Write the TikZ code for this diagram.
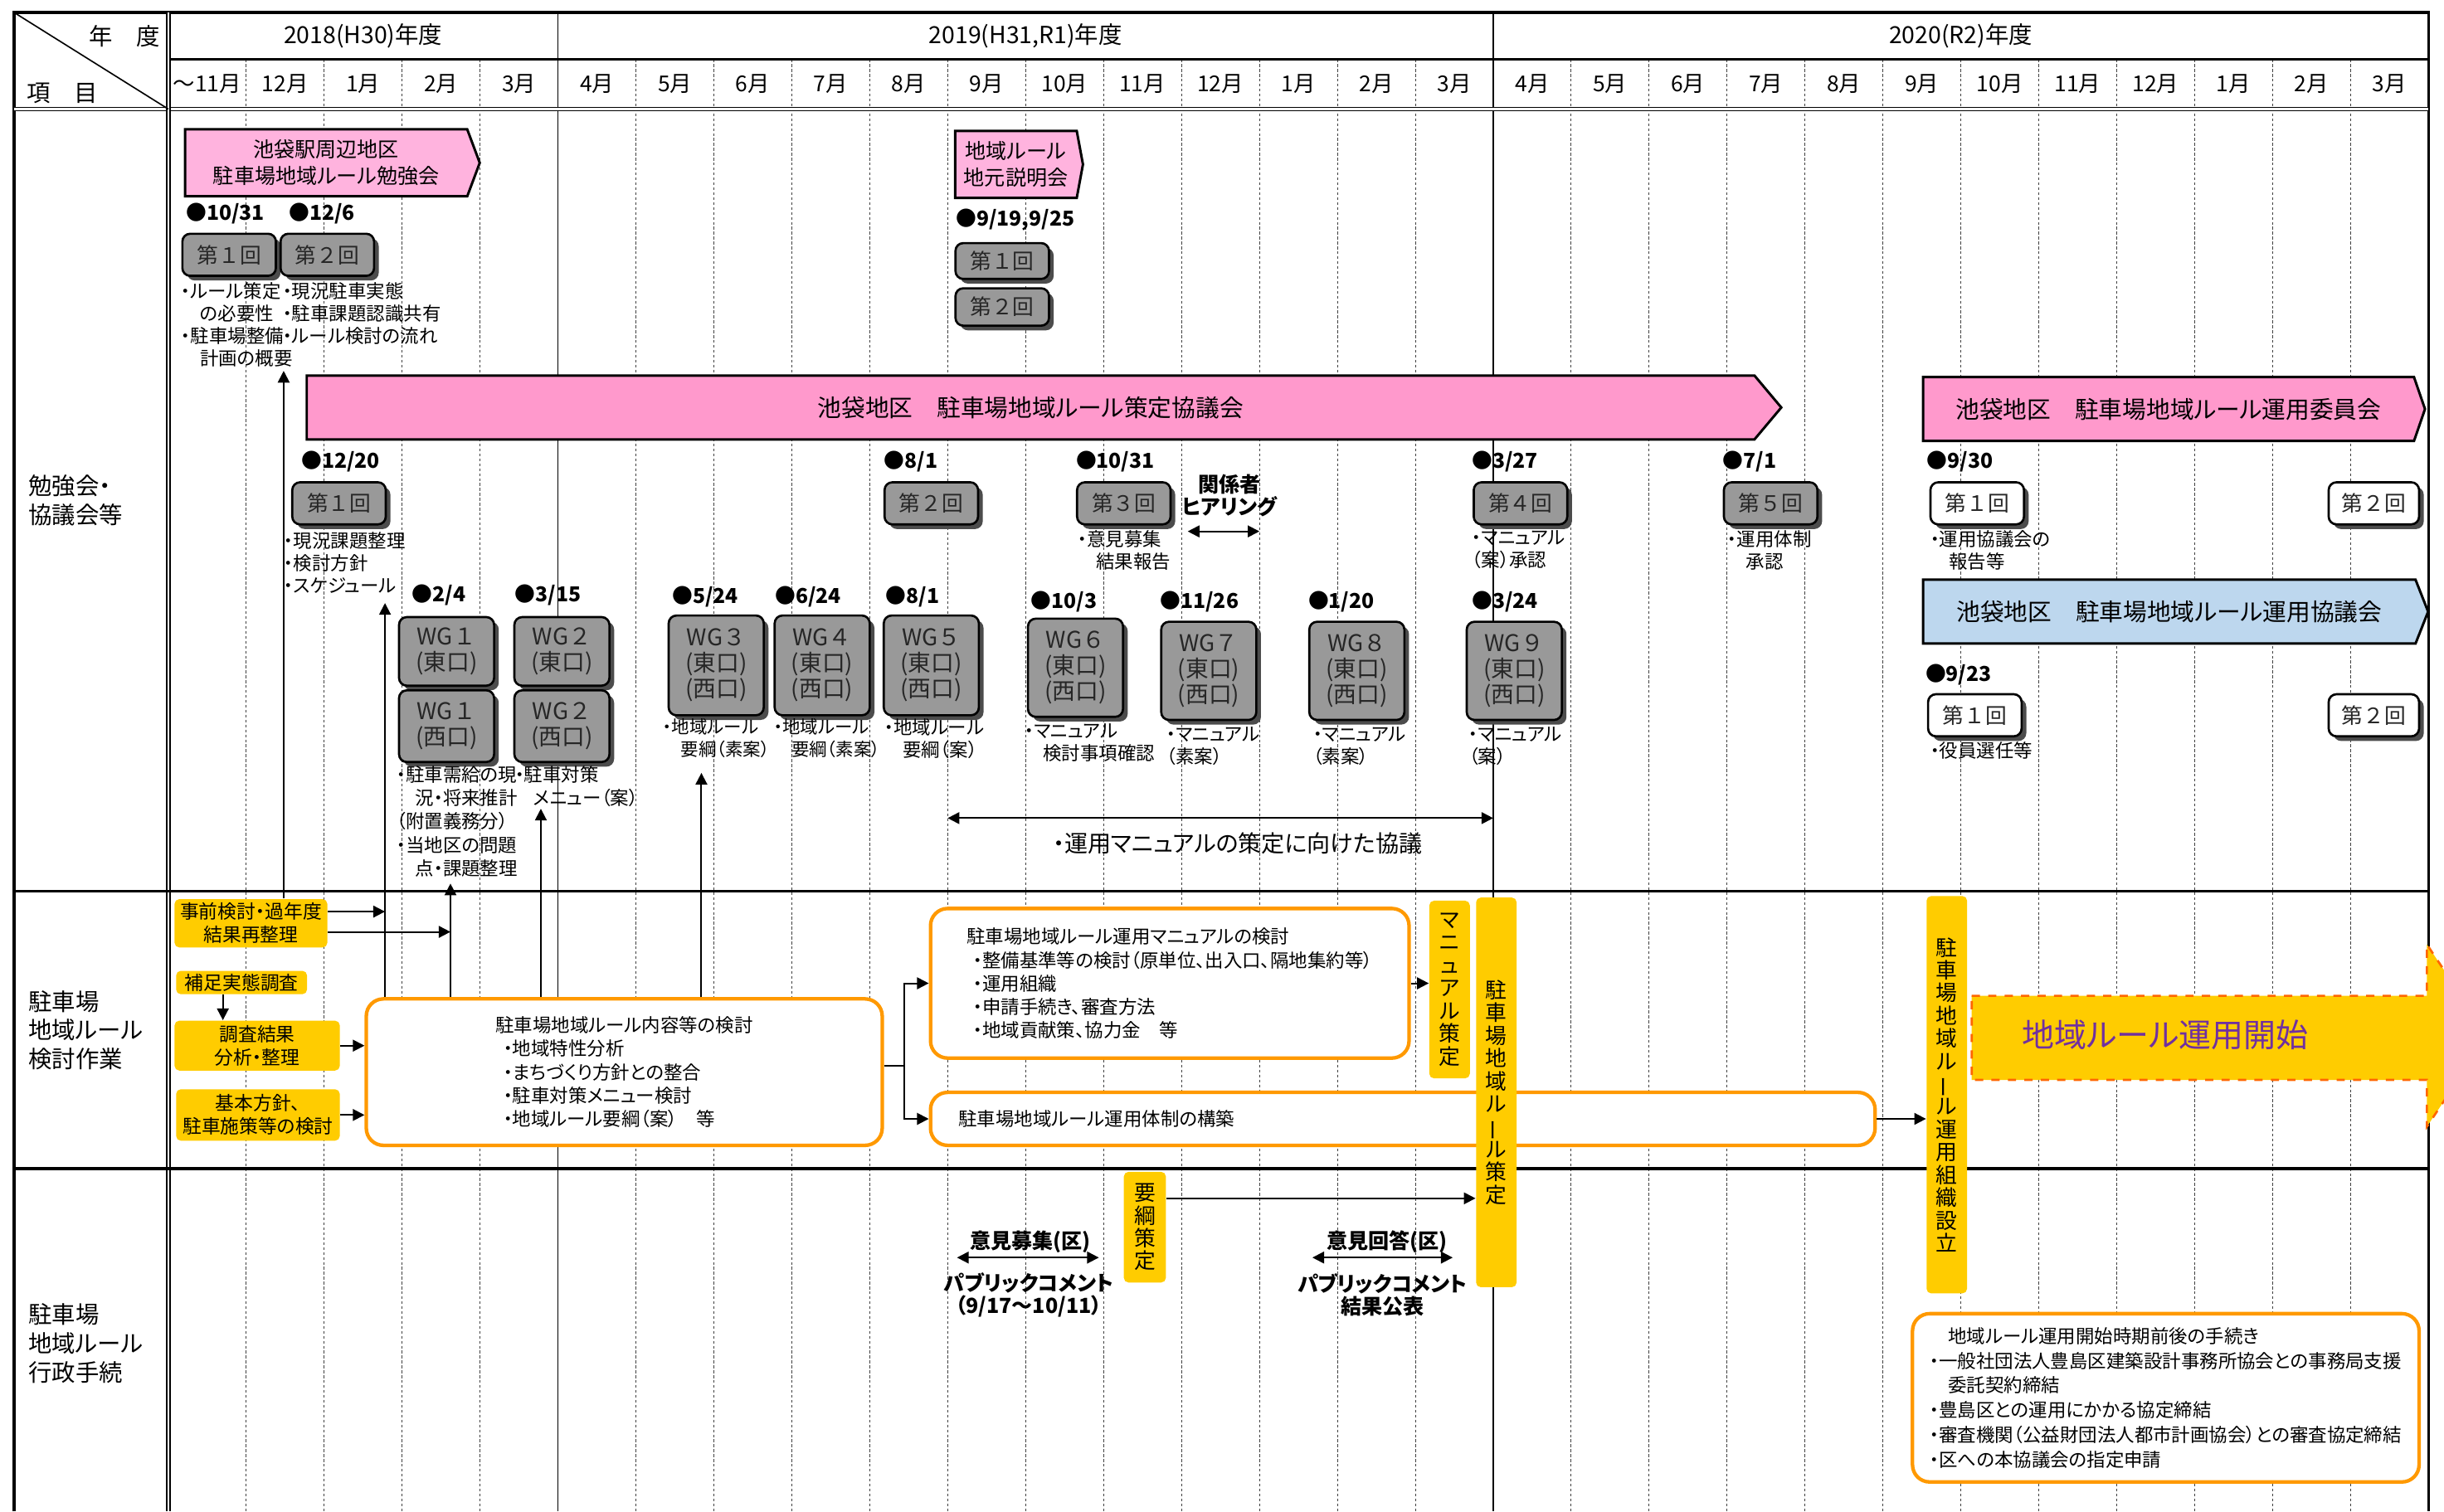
\documentclass[tikz,border=0pt]{standalone}
\usepackage{fontspec}
\setmainfont{Noto Sans CJK JP}[RawFeature=+palt]
\newfontfamily\boxfont{Noto Sans CJK JP}
\usetikzlibrary{positioning, arrows.meta, shapes.symbols, shadows}
\definecolor{rlpink}{HTML}{FF99CC}
\definecolor{rlpinklight}{HTML}{FFB3DE}
\definecolor{rlblue}{HTML}{BDD7EE}
\definecolor{rlgray}{HTML}{999999}
\definecolor{rlyellow}{HTML}{FFCC00}
\definecolor{rlorange}{HTML}{FF9900}
\definecolor{rlpurple}{HTML}{7030A0}
\definecolor{rldash}{HTML}{FF6600}
\newcommand{\tatebo}{\rotatebox[origin=c]{90}{ー}}

\begin{document}
\begin{tikzpicture}[x=0.2mm, y=-0.2mm,
    frame/.style={line width=1pt},
    monthline/.style={line width=0.3pt, black!75, dash pattern=on 1pt off 0.8pt},
    hdr/.style={inner sep=0pt, font=\fontsize{8.6}{9}\selectfont},
    monthlbl/.style={inner sep=0pt, font=\fontsize{8}{9}\selectfont},
    seclbl/.style={anchor=west, align=left, inner sep=0pt, font=\fontsize{8.6}{10.5}\selectfont},
    pinkbar/.style={signal, signal to=east, draw, line width=0.9pt, inner sep=0pt, align=center, anchor=west},
    meetbox/.style={draw, line width=0.8pt, rounded corners=1mm, fill=rlgray, minimum width=12mm,
      minimum height=5.4mm, inner sep=0pt, text=black!85, font=\boxfont\fontsize{7.8}{9}\selectfont,
      drop shadow={shadow xshift=0.6mm, shadow yshift=-0.6mm, fill=black!70, opacity=1}},
    wgbox/.style={meetbox, minimum width=12.2mm, align=center, font=\boxfont\fontsize{8.4}{9.4}\selectfont},
    datelbl/.style={anchor=west, inner sep=0pt, font=\bfseries\fontsize{7.5}{8}\selectfont},
    note/.style={anchor=north west, align=left, inner sep=0pt, font=\fontsize{6.8}{8.2}\selectfont},
    yelbox/.style={fill=rlyellow, rounded corners=0.6mm, inner sep=0pt, align=center, font=\fontsize{6.9}{8.5}\selectfont},
    vbar/.style={yelbox, minimum width=5.2mm, font=\fontsize{7.8}{8.3}\selectfont},
    orbox/.style={draw=rlorange, line width=1.3pt, rounded corners=2.2mm, fill=white, inner sep=0pt,
      align=left, font=\fontsize{6.8}{8.5}\selectfont},
    boldlbl/.style={inner sep=0pt, align=center, font=\bfseries\fontsize{7.6}{8.4}\selectfont},
    arr/.style={-{Triangle[length=1.5mm,width=1.5mm]}, line width=0.6pt},
    darr/.style={{Triangle[length=1.5mm,width=1.5mm]}-{Triangle[length=1.5mm,width=1.5mm]}, line width=0.6pt}]
  \useasboundingbox (0,0) rectangle (1568,970);

  % month grid
  \foreach \i in {1,...,28}
    \draw[monthline] ({108+50*\i},38) -- ({108+50*\i},970);
  \draw[line width=0.5pt] (358,8) -- (358,970);
  \draw[line width=0.5pt] (958,8) -- (958,970);

  % frame
  \draw[frame] (9,970) -- (9,8) -- (1558,8) -- (1558,970);
  \draw[frame] (108,38) -- (1558,38);
  \draw[double, double distance=0.7pt, line width=0.5pt] (9,70) -- (1558,70);
  \draw[double, double distance=0.7pt, line width=0.5pt] (108,8) -- (108,970);
  \draw[frame] (9,572) -- (1558,572);
  \draw[frame] (9,750) -- (1558,750);
  \draw[line width=0.5pt] (9,8) -- (108,70);

  % header
  \node[hdr] (nendo) at (80,23) {年　度};
  \node[hdr] (komoku) at (40,60) {項　目};
  \node[hdr] (fy18) at (233,23) {2018(H30)年度};
  \node[hdr] (fy19) at (658,23) {2019(H31,R1)年度};
  \node[hdr] (fy20) at (1258,23) {2020(R2)年度};
  \foreach \m [count=\i] in {～11月,12月,1月,2月,3月,4月,5月,6月,7月,8月,9月,10月,11月,12月,1月,2月,3月,
      4月,5月,6月,7月,8月,9月,10月,11月,12月,1月,2月,3月}
    \node[monthlbl] (m\i) at ({83+50*\i},54) {\m};

  \node[seclbl] (sec1) at (18,321) {勉強会・\\協議会等};
  \node[seclbl] (sec2) at (18,661) {駐車場\\地域ルール\\検討作業};
  \node[seclbl] (sec3) at (18,862) {駐車場\\地域ルール\\行政手続};

  % study meetings and local briefings
  \node[pinkbar, fill=rlpinklight, signal pointer angle=139, minimum width=37.8mm, minimum height=8.6mm,
    font=\fontsize{7.6}{9.7}\selectfont] (benkyo) at (118,104.5) {池袋駅周辺地区\\駐車場地域ルール勉強会};
  \node[datelbl] (dB1) at (119,137) {●10/31};
  \node[datelbl] (dB2) at (185,137) {●12/6};
  \node[meetbox] (bk1) at (147,163.5) {第１回};
  \node[meetbox] (bk2) at (210,163.5) {第２回};
  \node[note] (nB1) at (116,181) {・ルール策定\\　の必要性\\・駐車場整備\\　計画の概要};
  \node[note] (nB2) at (181,181) {・現況駐車実態\\・駐車課題認識共有\\・ルール検討の流れ};

  \node[pinkbar, fill=rlpinklight, signal pointer angle=159, minimum width=16.4mm, minimum height=8.6mm,
    font=\fontsize{7.6}{9.7}\selectfont] (setsumei) at (612,105.5) {地域ルール\\地元説明会};
  \node[datelbl] (dS) at (613,141) {●9/19,9/25};
  \node[meetbox, minimum height=4.6mm] (sm1) at (643,167.5) {第１回};
  \node[meetbox, minimum height=4.8mm] (sm2) at (643,197) {第２回};

  % council
  \node[pinkbar, fill=rlpink, signal pointer angle=100, minimum width=189.2mm, minimum height=8.2mm,
    font=\fontsize{8.7}{9}\selectfont] (sakutei) at (196,261.5) {池袋地区　駐車場地域ルール策定協議会};
  \node[datelbl] (dC1) at (193,296) {●12/20};
  \node[meetbox] (ck1) at (217.5,323) {第１回};
  \node[note] (nC1) at (182,341) {・現況課題整理\\・検討方針\\・スケジュール};
  \node[datelbl] (dC2) at (567,296) {●8/1};
  \node[meetbox] (ck2) at (597.5,323) {第２回};
  \node[datelbl] (dC3) at (690,296) {●10/31};
  \node[meetbox] (ck3) at (721,323) {第３回};
  \node[note] (nC3) at (691,340) {・意見募集\\　結果報告};
  \node[boldlbl] (hear) at (789,318) {関係者\\ヒアリング};
  \coordinate (hearL) at (762,341);
  \coordinate (hearR) at (808,341);
  \draw[darr] (hearL) -- (hearR);
  \node[datelbl] (dC4) at (944,296) {●3/27};
  \node[meetbox] (ck4) at (975.5,323) {第４回};
  \node[note] (nC4) at (944,340) {・マニュアル\\（案）承認};
  \node[datelbl] (dC5) at (1105,296) {●7/1};
  \node[meetbox] (ck5) at (1136,323) {第５回};
  \node[note] (nC5) at (1108,340) {・運用体制\\　承認};

  % operation committee and operation council
  \node[pinkbar, fill=rlpink, signal pointer angle=142, minimum width=64.4mm, minimum height=8.2mm,
    font=\fontsize{8.7}{9}\selectfont] (iinkai) at (1233,262.5) {池袋地区　駐車場地域ルール運用委員会};
  \node[datelbl] (dI1) at (1236,296) {●9/30};
  \node[meetbox, fill=white] (ik1) at (1268.5,323) {第１回};
  \node[meetbox, fill=white, minimum width=11.6mm] (ik2) at (1523,323) {第２回};
  \node[note] (nI1) at (1238,340) {・運用協議会の\\　報告等};
  \node[pinkbar, fill=rlblue, signal pointer angle=137, minimum width=64.8mm, minimum height=8.2mm,
    font=\fontsize{8.7}{9}\selectfont] (unyo) at (1233,392.5) {池袋地区　駐車場地域ルール運用協議会};
  \node[datelbl] (dU1) at (1235,433) {●9/23};
  \node[meetbox, fill=white] (uk1) at (1267,459) {第１回};
  \node[meetbox, fill=white, minimum width=11.6mm] (uk2) at (1523,459) {第２回};
  \node[note] (nU1) at (1238,476) {・役員選任等};

  % working groups
  \node[datelbl] (dW1) at (264,382) {●2/4};
  \node[datelbl] (dW2) at (330,382) {●3/15};
  \node[datelbl] (dW3) at (431,383) {●5/24};
  \node[datelbl] (dW4) at (497,383) {●6/24};
  \node[datelbl] (dW5) at (568,383) {●8/1};
  \node[datelbl] (dW6) at (661,386) {●10/3};
  \node[datelbl] (dW7) at (744,386) {●11/26};
  \node[datelbl] (dW8) at (839,386) {●1/20};
  \node[datelbl] (dW9) at (944,386) {●3/24};
  \node[wgbox, minimum height=8.8mm] (wg1e) at (286.5,418) {WG１\\(東口)};
  \node[wgbox, minimum height=9.2mm] (wg1w) at (286.5,466) {WG１\\(西口)};
  \node[wgbox, minimum height=8.8mm] (wg2e) at (360.5,418) {WG２\\(東口)};
  \node[wgbox, minimum height=9.2mm] (wg2w) at (360.5,466) {WG２\\(西口)};
  \node[wgbox, minimum height=12.8mm] (wg3) at (459.5,427) {WG３\\(東口)\\(西口)};
  \node[wgbox, minimum height=12.8mm] (wg4) at (527.5,427) {WG４\\(東口)\\(西口)};
  \node[wgbox, minimum height=12.8mm] (wg5) at (597.5,427) {WG５\\(東口)\\(西口)};
  \node[wgbox, minimum height=12.6mm] (wg6) at (690,428.5) {WG６\\(東口)\\(西口)};
  \node[wgbox, minimum height=12.6mm] (wg7) at (775.5,430.5) {WG７\\(東口)\\(西口)};
  \node[wgbox, minimum height=12.6mm] (wg8) at (870.5,430.5) {WG８\\(東口)\\(西口)};
  \node[wgbox, minimum height=12.6mm] (wg9) at (971.5,430.5) {WG９\\(東口)\\(西口)};
  \node[note, font=\fontsize{6.8}{8.6}\selectfont] (nW1) at (254,491) {・駐車需給の現\\　況・将来推計\\（附置義務分）\\・当地区の問題\\　点・課題整理};
  \node[note, font=\fontsize{6.8}{8.6}\selectfont] (nW2) at (330,491) {・駐車対策\\　メニュー（案）};
  \node[note, font=\fontsize{6.5}{8.2}\selectfont] (nW3) at (425,461) {・地域ルール\\　要綱（素案）};
  \node[note, font=\fontsize{6.5}{8.2}\selectfont] (nW4) at (496,461) {・地域ルール\\　要綱（素案）};
  \node[note] (nW5) at (567,461) {・地域ルール\\　要綱（案）};
  \node[note] (nW6) at (657,464) {・マニュアル\\　検討事項確認};
  \node[note] (nW7) at (748,466) {・マニュアル\\（素案）};
  \node[note] (nW8) at (842,466) {・マニュアル\\（素案）};
  \node[note] (nW9) at (942,466) {・マニュアル\\（案）};
  \coordinate (kyogiL) at (608,525);
  \coordinate (kyogiR) at (958,525);
  \draw[darr] (kyogiL) -- (kyogiR);
  \node[inner sep=0pt, font=\fontsize{8.5}{9}\selectfont] (kyogi) at (794,541) {・運用マニュアルの策定に向けた協議};

  % study work
  \node[yelbox, minimum width=19.6mm, minimum height=6.2mm] (pre) at (161,592.5) {事前検討・過年度\\結果再整理};
  \node[yelbox, minimum width=16.8mm, minimum height=3mm] (sup) at (155,630.5) {補足実態調査};
  \node[yelbox, minimum width=21.2mm, minimum height=6.4mm] (ana) at (165,671) {調査結果\\分析・整理};
  \node[yelbox, minimum width=21mm, minimum height=6.6mm] (pol) at (165.5,715.5) {基本方針、\\駐車施策等の検討};
  \node[orbox, minimum width=66.2mm, minimum height=18.8mm] (study) at (400.5,688)
    {駐車場地域ルール内容等の検討\\
     \hspace*{1mm}・地域特性分析\\
     \hspace*{1mm}・まちづくり方針との整合\\
     \hspace*{1mm}・駐車対策メニュー検討\\
     \hspace*{1mm}・地域ルール要綱（案）　等};
  \node[orbox, minimum width=61.4mm, minimum height=19.2mm] (manual) at (750.5,631)
    {駐車場地域ルール運用マニュアルの検討\\
     \hspace*{0.8mm}・整備基準等の検討（原単位、出入口、隔地集約等）\\
     \hspace*{0.8mm}・運用組織\\
     \hspace*{0.8mm}・申請手続き、審査方法\\
     \hspace*{0.8mm}・地域貢献策、協力金　等};
  \node[orbox, minimum height=6.8mm, inner xsep=3.6mm, text width=114mm] (system) at (900,718)
    {駐車場地域ルール運用体制の構築};
  \node[vbar, minimum height=22.8mm] (man) at (930,635) {マ\\ニ\\ュ\\ア\\ル\\策\\定};
  \node[vbar, minimum height=50mm] (rule) at (960,701) {駐\\車\\場\\地\\域\\ル\\ \tatebo\\ル\\策\\定};
  \node[vbar, minimum height=51mm] (org) at (1249,702.5) {駐\\車\\場\\地\\域\\ル\\ \tatebo\\ル\\運\\用\\組\\織\\設\\立};

  \begin{scope}
    \clip (0,0) rectangle (1568,970);
    \draw[rldash, dashed, line width=0.8pt, fill=rlyellow] (1265,639) -- (1557,639) -- (1557,606)
      -- (1596,664.5) -- (1557,723) -- (1557,693) -- (1265,693) -- cycle;
  \end{scope}
  \node[inner sep=0pt, text=rlpurple, font=\fontsize{11.8}{12}\selectfont] (kaishi) at (1389,664) {地域ルール運用開始};

  \coordinate (up1) at (182,238);
  \coordinate (up2) at (247,387);
  \coordinate (up3) at (289,567);
  \coordinate (up4) at (347,519);
  \coordinate (up5) at (450,496);
  \coordinate (pre1) at ([yshift=1.5mm]pre.east);
  \coordinate (pre2) at ([yshift=-1.1mm]pre.east);
  \coordinate (br) at (580,684);
  \draw[arr] (pre.north -| up1) -- (up1);
  \draw[arr] (study.north -| up2) -- (up2);
  \draw[arr] (study.north -| up3) -- (up3);
  \draw[arr] (study.north -| up4) -- (up4);
  \draw[arr] (study.north -| up5) -- (up5);
  \draw[arr] (pre1) -- (pre1 -| up2);
  \draw[arr] (pre2) -- (pre2 -| up3);
  \draw[arr] ([xshift=-2.4mm]sup.south) -- ([xshift=-2.4mm]sup.south |- ana.north);
  \draw[arr] (ana.east) -- (ana.east -| study.west);
  \draw[arr] (pol.east) -- (pol.east -| study.west);
  \draw[line width=0.6pt] (study.east |- br) -- (br);
  \draw[arr] (br) |- (manual.west);
  \draw[arr] (br) |- (system.west);
  \draw[arr] (manual.east) -- (manual.east -| man.west);
  \draw[arr] (system.east) -- (system.east -| org.west);

  % administrative procedure
  \node[vbar, minimum width=5.4mm, minimum height=14.2mm] (yoko) at (734.5,787.5) {要\\綱\\策\\定};
  \coordinate (yoko1) at ([yshift=3.7mm]yoko.east);
  \draw[arr] (yoko1) -- (yoko1 -| rule.west);
  \node[boldlbl] (pc1t) at (661,797) {意見募集(区)};
  \coordinate (pc1L) at (614,807);
  \coordinate (pc1R) at (705,807);
  \draw[darr] (pc1L) -- (pc1R);
  \node[boldlbl] (pc1b) at (660,831) {パブリックコメント\\（9/17～10/11）};
  \node[boldlbl] (pc2t) at (890,797) {意見回答(区)};
  \coordinate (pc2L) at (842,807);
  \coordinate (pc2R) at (932,807);
  \draw[darr] (pc2L) -- (pc2R);
  \node[boldlbl] (pc2b) at (887,831) {パブリックコメント\\結果公表};
  \node[orbox, minimum height=21.6mm, inner xsep=2.2mm, text width=60.6mm, font=\fontsize{6.8}{9}\selectfont] (proc) at (1389.5,897)
    {　地域ルール運用開始時期前後の手続き\\
     ・一般社団法人豊島区建築設計事務所協会との事務局支援\\
     　委託契約締結\\
     ・豊島区との運用にかかる協定締結\\
     ・審査機関（公益財団法人都市計画協会）との審査協定締結\\
     ・区への本協議会の指定申請};
\end{tikzpicture}
\end{document}
